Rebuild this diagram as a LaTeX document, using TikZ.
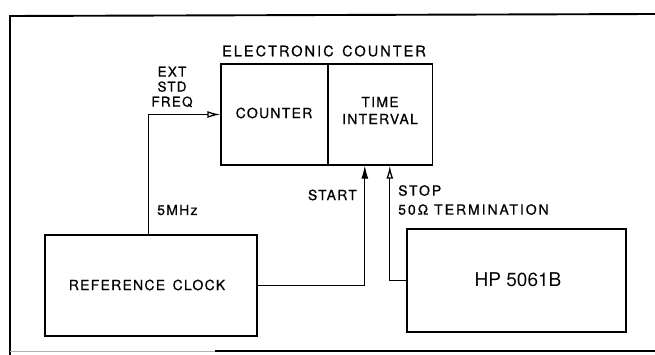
\documentclass[tikz,border=0pt]{standalone}
\usepackage{fontspec}
\setmainfont{TeX Gyre Heros}
\newfontfamily\lblfont[LetterSpace=9,FakeBold=0.6]{TeX Gyre Heros}
\newfontfamily\widefont[LetterSpace=14,FakeBold=0.6]{TeX Gyre Heros}
\newfontfamily\ttlfont[LetterSpace=14,FakeBold=0.6]{TeX Gyre Heros}
\usetikzlibrary{arrows.meta,calc}
\begin{document}
\begin{tikzpicture}[x=1pt,y=-1pt,
  box/.style={draw,line width=1.4pt,inner sep=0pt,rectangle},
  lbl/.style={inner sep=0pt,font=\lblfont\fontsize{14}{15}\selectfont},
  conn/.style={line width=1pt},
  tipfill/.style={-{Latex[length=13pt,width=7pt]}},
  tipopen/.style={-{Latex[open,length=13pt,width=7pt,line width=1.3pt]}},
  frame/.style={line width=1.9pt}]
\useasboundingbox (0,0) rectangle (655,355);
% frame
\coordinate (ftl) at (10,16);
\coordinate (ftr) at (655,14);
\coordinate (fbl) at (10,355);
\coordinate (fbm) at (215,351);
\coordinate (fbr) at (655,351);
\draw[frame] (fbl) -- (ftl) -- (ftr);
\draw[frame] (fbm) -- (fbr);
\draw[line width=0.5pt,black!30] (10,351) -- (fbm);
% boxes
\node[box,minimum width=107pt,minimum height=101pt] (cnt) at (274.5,114.5) {};
\node[box,minimum width=104pt,minimum height=101pt] (ti) at (380.5,114.5) {};
\node[box,minimum width=212pt,minimum height=101pt] (ref) at (151,285.5) {};
\node[box,minimum width=219pt,minimum height=103pt] (hp) at (516.5,280.5) {};
% texts
\node[inner sep=0pt,font=\ttlfont\fontsize{14.5}{15}\selectfont] (ttl) at (324,51) {ELECTRONIC\, COUNTER};
\node[lbl] (cnttxt) at (274,113) {COUNTER};
\node[lbl,align=center,font=\lblfont\fontsize{14}{17}\selectfont] (titxt) at (380,110.5) {TIME\\INTERVAL};
\node[lbl,font=\lblfont\fontsize{14}{15}\selectfont] (reftxt) at (147,285) {REFERENCE\, CLOCK};
\node[inner sep=0pt,font=\fontsize{19}{22}\selectfont] (hptxt) at (518,280) {HP 5061B};
\node[lbl,align=center,font=\lblfont\fontsize{13.5}{15}\selectfont] (ext) at (172,87) {EXT\\STD\\FREQ};
\node[lbl,anchor=west] (mhz) at (157,210) {5MHz};
\node[lbl,anchor=east] (start) at (357,195) {START};
\node[lbl,anchor=north west,align=left,font=\widefont\fontsize{14}{19}\selectfont] (stop) at (398,185) {STOP\\50Ω TERMINATION};
% connectors
\coordinate (extx) at (148,115);
\coordinate (startx) at ($(ti.south west)+(37,0)$);
\coordinate (stopx) at ($(ti.south west)+(62,0)$);
\draw[conn,tipopen] (ref.north -| extx) |- (cnt.west);
\draw[conn,tipfill] (ref.east) -| (startx);
\draw[conn,tipopen] (hp.west) -| (stopx);
\end{tikzpicture}
\end{document}
